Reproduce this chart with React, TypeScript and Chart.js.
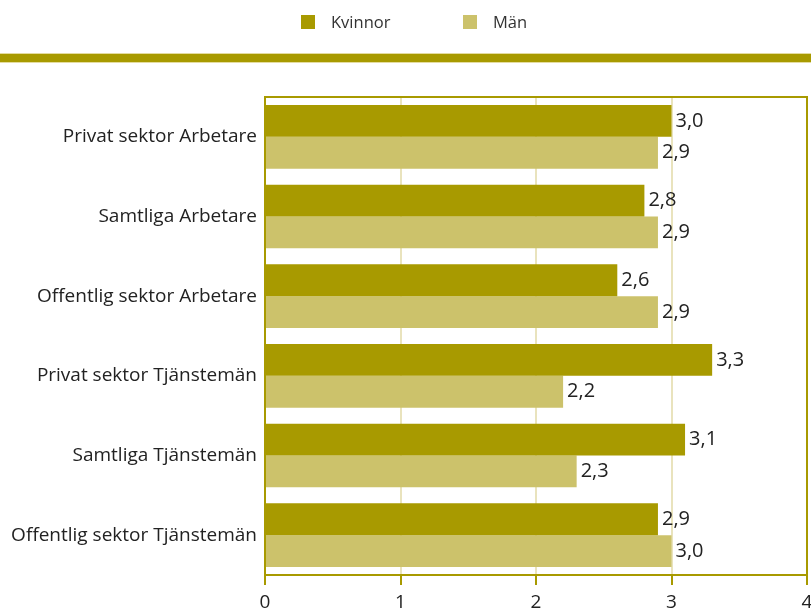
import React, { useEffect, useRef } from "react";
import { Chart, registerables } from "chart.js";

Chart.register(...registerables);

const categories = [
  "Privat sektor Arbetare",
  "Samtliga Arbetare",
  "Offentlig sektor Arbetare",
  "Privat sektor Tjänstemän",
  "Samtliga Tjänstemän",
  "Offentlig sektor Tjänstemän",
];
const seriesNames = ["Kvinnor", "Män"];
const kvinnor = [3.0, 2.8, 2.6, 3.3, 3.1, 2.9];
const man = [2.9, 2.9, 2.9, 2.2, 2.3, 3.0];
const colors = ["#a89a00", "#ccc26b"];
const olive = "#a89a00";
const FONT = "'Open Sans', 'Noto Sans', sans-serif";

const fmt = (v: number) => v.toFixed(1).replace(".", ",");

const decorPlugin = {
  id: "decor",
  beforeDraw(chart: any) {
    const ctx = chart.ctx;
    ctx.save();
    ctx.fillStyle = "#e4dca0";
    ctx.fillRect(0, 53, chart.width, 10);
    ctx.fillStyle = olive;
    ctx.fillRect(0, 54, chart.width, 8);
    ctx.restore();
  },
  afterDatasetsDraw(chart: any) {
    const ctx = chart.ctx;
    const a = chart.chartArea;
    ctx.save();
    ctx.strokeStyle = olive;
    ctx.lineWidth = 2;
    ctx.strokeRect(a.left, a.top, a.right - a.left, a.bottom - a.top);
    ctx.font = `20px ${FONT}`;
    ctx.fillStyle = "#222";
    ctx.textAlign = "left";
    ctx.textBaseline = "middle";
    chart.data.datasets.forEach((ds: any, di: number) => {
      const meta = chart.getDatasetMeta(di);
      meta.data.forEach((bar: any, i: number) => {
        ctx.fillText(fmt(ds.data[i]), bar.x + 4, bar.y);
      });
    });
    ctx.restore();
  },
};

export default function App() {
  const ref = useRef<HTMLCanvasElement>(null);
  useEffect(() => {
    const chart = new Chart(ref.current!, {
      type: "bar",
      data: {
        labels: categories,
        datasets: [
          { label: seriesNames[0], data: kvinnor, backgroundColor: colors[0] },
          { label: seriesNames[1], data: man, backgroundColor: colors[1] },
        ],
      },
      options: {
        indexAxis: "y",
        animation: false,
        responsive: false,
        devicePixelRatio: 1,
        layout: { padding: { top: 97, right: 4, left: 0, bottom: 0 } },
        datasets: { bar: { categoryPercentage: 0.8, barPercentage: 1.0 } },
        plugins: { legend: { display: false }, tooltip: { enabled: false } },
        scales: {
          x: {
            min: 0,
            max: 4,
            ticks: { stepSize: 1, color: "#222", font: { family: FONT, size: 19 }, padding: 6 },
            grid: { color: "#e9e3bd", lineWidth: 2, tickColor: olive, tickLength: 10, tickWidth: 2 },
            border: { color: olive, width: 2 },
            afterFit: (s: any) => {
              s.height = 39;
              s.paddingRight = 0;
              s.paddingLeft = 0;
            },
          },
          y: {
            ticks: { color: "#222", font: { family: FONT, size: 19 }, padding: 0 },
            grid: { display: false },
            border: { color: olive, width: 2 },
            afterFit: (s: any) => {
              s.width = 265;
            },
          },
        },
      },
      plugins: [decorPlugin],
    });
    return () => chart.destroy();
  }, []);

  return (
    <div style={{ position: "fixed", left: 0, top: 0, width: 811, height: 614, background: "#fff" }}>
      <canvas ref={ref} width={811} height={614} style={{ position: "absolute", left: 0, top: 0 }} />
      {seriesNames.map((n, i) => (
        <div
          key={n}
          style={{
            position: "absolute",
            top: 10,
            left: i === 0 ? 301 : 463,
            display: "flex",
            alignItems: "center",
            fontFamily: FONT,
            fontSize: 16.5,
            color: "#333",
          }}
        >
          <span style={{ display: "inline-block", width: 14, height: 14, background: colors[i], marginRight: 16 }} />
          <span>{n}</span>
        </div>
      ))}
    </div>
  );
}
